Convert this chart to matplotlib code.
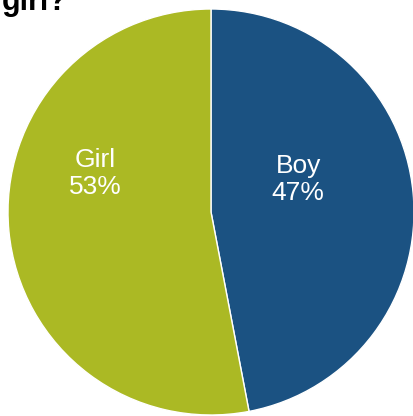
import matplotlib.pyplot as plt

labels = ['Boy', 'Girl']
shares = [47, 53]
colors = ['#1b5282', '#abb924']

plt.rcParams['font.family'] = ['Liberation Sans', 'DejaVu Sans']

fig = plt.figure(figsize=(4.14, 4.16), dpi=100)
ax = fig.add_axes([8 / 414, 1 / 416, 406 / 414, 406 / 416])

wedges, _ = ax.pie(shares, colors=colors, startangle=90, counterclock=False,
                   radius=1, wedgeprops=dict(edgecolor='white', linewidth=1))
ax.set_aspect('auto')
ax.set_xlim(-1, 1)
ax.set_ylim(-1, 1)
ax.axis('off')

# label spots inside each slice
label_pos = {'Boy': (0.43, 0.16), 'Girl': (-0.57, 0.19)}
for lab, val in zip(labels, shares):
    x, y = label_pos[lab]
    ax.text(x, y, f'{lab}\n{val}%', color='white', fontsize=19,
            ha='center', va='center', linespacing=1.12)

# last line of the title, partly clipped at the top
fig.text(2 / 414, 1 - 10 / 416, 'girl?', fontsize=22, fontweight='bold',
         ha='left', va='baseline', color='black')

fig.savefig('out.png', dpi=100)
